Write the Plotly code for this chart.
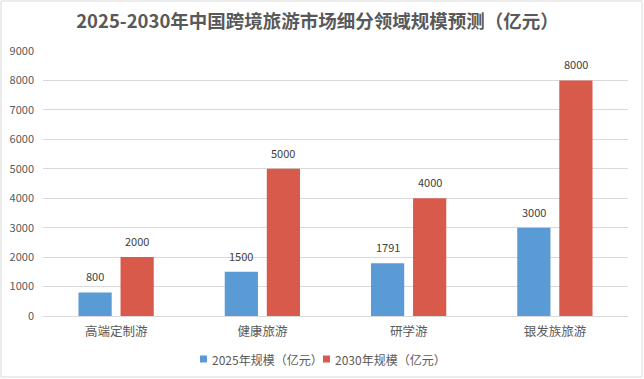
import plotly.graph_objects as go

categories = ["高端定制游", "健康旅游", "研学游", "银发族旅游"]
values_2025 = [800, 1500, 1791, 3000]
values_2030 = [2000, 5000, 4000, 8000]
series_names = ["2025年规模（亿元）", "2030年规模（亿元）"]
series_colors = ["#5B9BD5", "#D85A4B"]
y_ticks = list(range(0, 9001, 1000))

W, H = 644, 379
ml, mr, mt, mb = 43, 16, 51, 63
pw, ph = W - ml - mr, H - mt - mb
bargap, bargroupgap = 0.425, 0.21
slot_px = pw / len(categories) * (1 - bargap) / 2  # width of one bar slot in px

font_family = "Noto Sans CJK SC, Microsoft YaHei, sans-serif"

fig = go.Figure()
annotations = []
for i, (name, vals, col) in enumerate(zip(series_names, [values_2025, values_2030], series_colors)):
    fig.add_trace(go.Bar(
        x=categories, y=vals, name=name,
        marker=dict(color=col, line=dict(width=0)),
        showlegend=False, hoverinfo="x+y+name",
    ))
    # value labels above bars, positioned from the data values
    shift = (i - 0.5) * slot_px
    for c, v in zip(categories, vals):
        annotations.append(dict(x=c, y=v, xref="x", yref="y", text=str(v),
                                showarrow=False, xanchor="center", yanchor="bottom",
                                xshift=shift, yshift=6,
                                font=dict(size=11, color="#404040")))

# legend drawn as annotations (marker square + text) below the plot
legend_y_px = 359
legend_x_px = [200, 323]
shapes = [dict(type="rect", xref="paper", yref="paper",
               x0=-(ml - 1) / pw, x1=1 + (mr - 2) / pw,
               y0=-(mb - 2) / ph, y1=1 + (mt - 1) / ph,
               line=dict(color="#D9D9D9", width=1), fillcolor="rgba(0,0,0,0)")]
for name, col, xp in zip(series_names, series_colors, legend_x_px):
    yc = -(legend_y_px - (H - mb)) / ph
    x0 = (xp - ml) / pw
    shapes.append(dict(type="rect", xref="paper", yref="paper",
                       x0=x0, x1=x0 + 7 / pw, y0=yc - 3.5 / ph, y1=yc + 3.5 / ph,
                       line=dict(width=0), fillcolor=col))
    annotations.append(dict(text=name, xref="paper", yref="paper",
                            x=x0 + 10 / pw, y=yc, xanchor="left", yanchor="middle",
                            showarrow=False, font=dict(size=12, color="#595959")))

fig.update_layout(
    width=W, height=H,
    margin=dict(l=ml, r=mr, t=mt, b=mb, autoexpand=False),
    paper_bgcolor="white", plot_bgcolor="white",
    font=dict(family=font_family, color="#595959", size=11),
    title=dict(text="<b>2025-2030年中国跨境旅游市场细分领域规模预测（亿元）</b>",
               x=(85 + 550) / 2 / W, xanchor="center", y=1 - 21.5 / H, yanchor="middle",
               font=dict(size=18.5, color="#595959")),
    barmode="group", bargap=bargap, bargroupgap=bargroupgap,
    showlegend=False,
    xaxis=dict(showline=False, ticks="", tickfont=dict(size=12.5, color="#595959"),
               ticklabelstandoff=6, automargin=False),
    yaxis=dict(range=[0, 9000], tickvals=y_ticks, showgrid=True, gridcolor="#D9D9D9",
               gridwidth=1, zeroline=True, zerolinecolor="#D9D9D9", zerolinewidth=1,
               ticks="", tickfont=dict(size=11, color="#595959"), ticklabelstandoff=8,
               automargin=False),
    shapes=shapes,
    annotations=annotations,
)

fig.write_html("out.html", config={"displayModeBar": False},
               post_script="document.body.style.margin='0';")
